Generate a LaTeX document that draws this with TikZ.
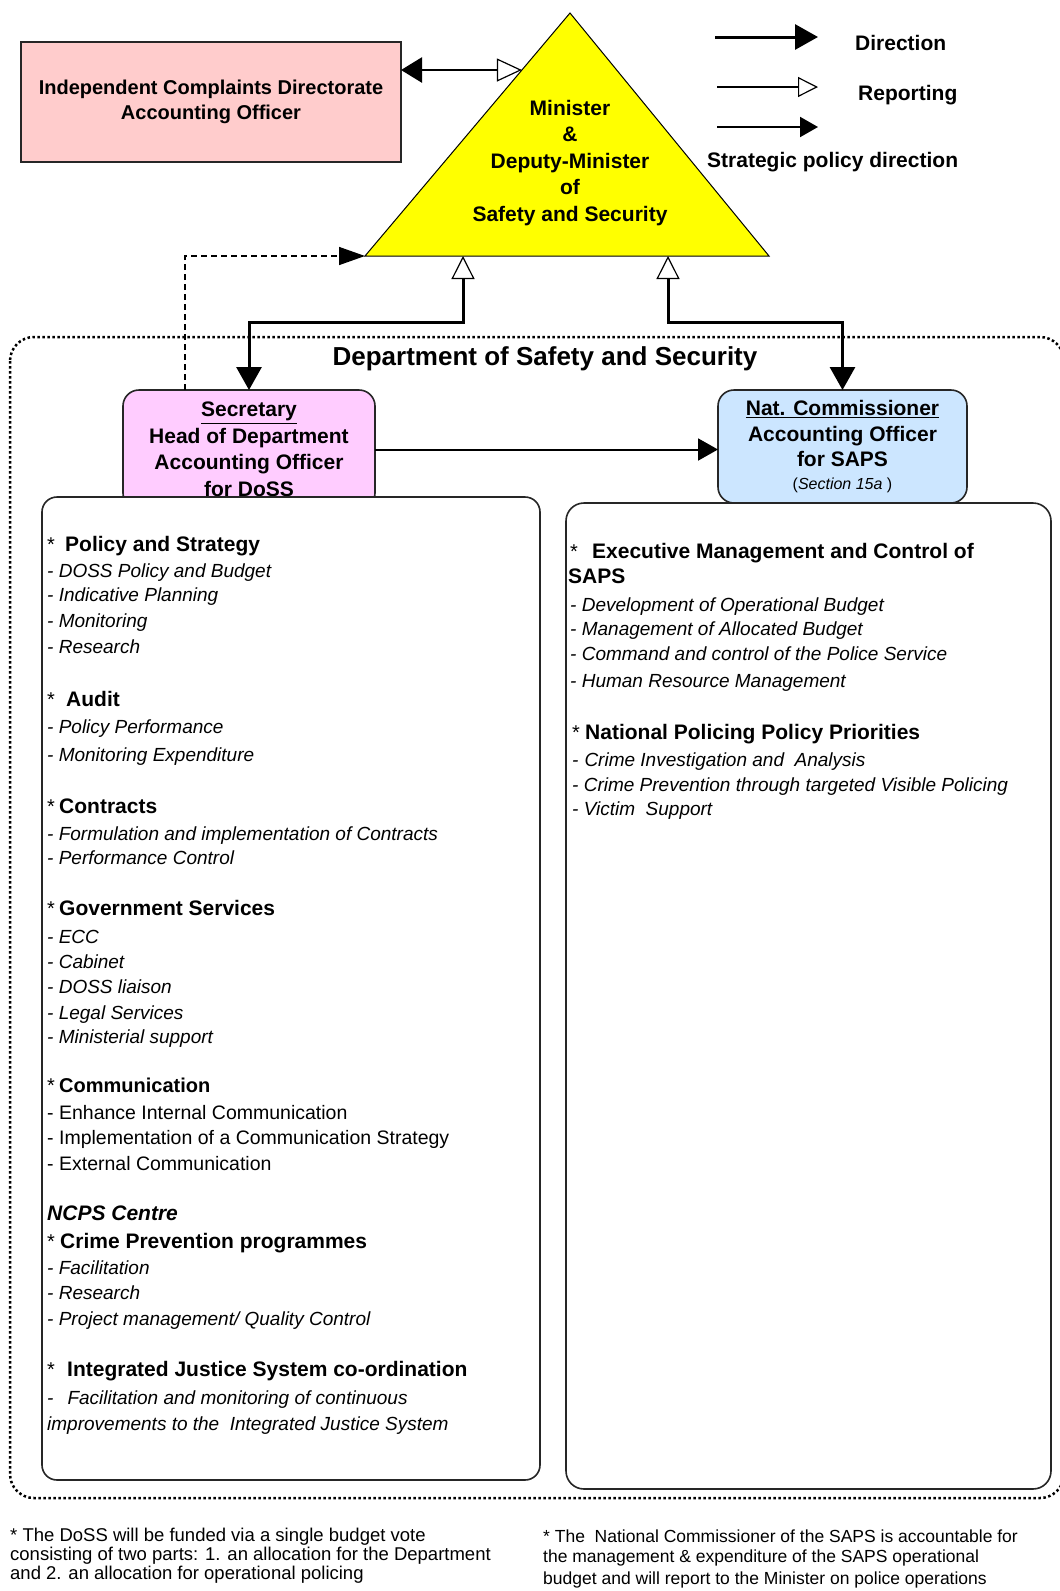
\documentclass[tikz,border=0pt]{standalone}
\usepackage{fontspec}
\setmainfont{Liberation Sans}
\usetikzlibrary{arrows.meta,calc}
\definecolor{icdpink}{HTML}{FFCCCC}
\definecolor{secpink}{HTML}{FFCCFF}
\definecolor{commblue}{HTML}{CCE6FF}
\definecolor{triyellow}{HTML}{FFFF00}
\newcommand\bul[1]{\makebox[#1][l]{\mdseries\upshape\fontsize{20}{22}\selectfont*}}
\begin{document}
\begin{tikzpicture}[x=1pt,y=-1pt,
  hd/.style={font=\fontsize{21}{25}\selectfont\bfseries, inner sep=0pt, anchor=base west},
  itm/.style={font=\fontsize{19}{23}\selectfont\itshape, inner sep=0pt, anchor=base west},
  rgl/.style={font=\fontsize{19.5}{23}\selectfont, inner sep=0pt, anchor=base west},
  legtxt/.style={font=\fontsize{21}{25}\selectfont\bfseries, inner sep=0pt, anchor=base west},
  foot/.style={font=\fontsize{18.5}{19}\selectfont, inner sep=0pt, anchor=base west},
  rfoot/.style={foot, font=\fontsize{17.5}{19}\selectfont},
  box/.style={draw=black!85, line width=1.6pt, outer sep=0pt, inner sep=0pt},
  titlebox/.style={box, rounded corners=16pt, align=center, font=\fontsize{21}{26.5}\selectfont\bfseries},
  contentbox/.style={box, fill=white},
  thickline/.style={line width=3pt},
]
\useasboundingbox (0,0) rectangle (1060,1591);
\fill[white] (0,0) rectangle (1060,1591);
\clip (0,0) rectangle (1060,1591);

% department boundary
\draw[line width=2.5pt, dash pattern=on 2.5pt off 2.5pt, rounded corners=24pt] (10,337) rectangle (1064,1498);
\node[font=\fontsize{26}{30}\selectfont\bfseries, inner sep=0pt, anchor=base] (dept) at (545,365) {Department of Safety and Security};

% ICD box
\node[box, fill=icdpink, minimum width=380pt, minimum height=120pt, align=center,
      font=\fontsize{20}{25.5}\selectfont\bfseries] (icd) at (211,102)
      {Independent Complaints Directorate\\Accounting Officer};

% triangle
\coordinate (apex) at (570,13);
\coordinate (bl) at (365,256);
\coordinate (br) at (769,256);
\draw[fill=triyellow, line width=1pt] (apex) -- (bl) -- (br) -- cycle;
\node[align=center, inner sep=0pt, font=\fontsize{21}{26.5}\selectfont\bfseries] (minister) at (570,163)
  {Minister\\\&\\Deputy-Minister\\of\\Safety and Security};
\coordinate (trL) at ($(bl)!0.7654!(apex)$);
\coordinate (rl) at (463,256);
\coordinate (rr) at (668,256);

% legend
\coordinate (d1) at (715,37);  \coordinate (d2) at (818,37);
\coordinate (p1) at (717,87);  \coordinate (p2) at (818,87);
\coordinate (s1) at (717,127); \coordinate (s2) at (818,127);
\draw[line width=3pt, -{Triangle[length=23pt,width=25pt]}] (d1) -- (d2);
\draw[line width=1.5pt, -{Triangle[open,length=20pt,width=20pt,line width=1.2pt,fill=white]}] (p1) -- (p2);
\draw[line width=2pt, -{Triangle[length=18pt,width=20pt]}] (s1) -- (s2);
\node[legtxt] (ldir) at (855,50) {Direction};
\node[legtxt] (lrep) at (858,100) {Reporting};
\node[legtxt] (lstr) at (707,167) {Strategic policy direction};

% secretary and commissioner
\node[titlebox, fill=secpink, minimum width=252pt, minimum height=119pt] (sec) at (249,449.5)
  {\underline{Secretary}\\Head of Department\\Accounting Officer\\for DoSS};
\node[titlebox, fill=commblue, minimum width=249pt, minimum height=113pt,
      font=\fontsize{21}{25.5}\selectfont\bfseries] (comm) at (842.5,446.5)
  {\underline{Nat. Commissioner}\\Accounting Officer\\for SAPS\\[-3pt]{\mdseries\fontsize{16}{19}\selectfont(\textit{Section 15a} )}};

% content boxes
\node[contentbox, rounded corners=15pt, minimum width=498pt, minimum height=983pt] (lbox) at (291,988.5) {};
\node[contentbox, rounded corners=18pt, minimum width=485pt, minimum height=986pt] (rbox) at (808.5,996) {};

% connectors
\draw[line width=2.5pt, {Triangle[length=21pt,width=25pt]}-{Triangle[open,length=25pt,width=23pt,line width=1.2pt,fill=white]}]
  (trL -| icd.east) -- (trL);
\draw[thickline, {Triangle[open,length=23pt,width=23pt,line width=1.2pt,fill=white]}-{Triangle[length=23pt,width=25pt]}]
  (rl) -- ($(rl)+(0,66)$) -| (sec.north);
\draw[thickline, {Triangle[open,length=23pt,width=23pt,line width=1.2pt,fill=white]}-{Triangle[length=23pt,width=25pt]}]
  (rr) -- ($(rr)+(0,66)$) -| (comm.north);
\draw[line width=1.5pt, dash pattern=on 6pt off 4pt, -{Triangle[length=26pt,width=18pt]}]
  ($(sec.north west)+(62,0)$) |- (bl);
\draw[line width=2pt, -{Triangle[length=20pt,width=22pt]}] (sec.east) -- (sec.east -| comm.west);

% left box content
\node[hd] (l1) at (47,551) {\bul{18pt}Policy and Strategy};
\node[itm] (l2) at (47,577) {- DOSS Policy and Budget};
\node[itm] (l3) at (47,601) {- Indicative Planning};
\node[itm] (l4) at (47,627) {- Monitoring};
\node[itm] (l5) at (47,653) {- Research};
\node[hd] (l6) at (47,706) {\bul{19pt}Audit};
\node[itm] (l7) at (47,733) {- Policy Performance};
\node[itm] (l8) at (47,761) {- Monitoring Expenditure};
\node[hd] (l9) at (47,813) {\bul{12pt}Contracts};
\node[itm] (l10) at (47,840) {- Formulation and implementation of Contracts};
\node[itm] (l11) at (47,864) {- Performance Control};
\node[hd] (l12) at (47,915) {\bul{12pt}Government Services};
\node[itm] (l13) at (47,943) {- ECC};
\node[itm] (l14) at (47,968) {- Cabinet};
\node[itm] (l15) at (47,993) {- DOSS liaison};
\node[itm] (l16) at (47,1019) {- Legal Services};
\node[itm] (l17) at (47,1043) {- Ministerial support};
\node[hd, font=\fontsize{20}{24}\selectfont\bfseries] (l18) at (47,1092) {\bul{12pt}Communication};
\node[rgl] (l19) at (47,1119) {- Enhance Internal Communication};
\node[rgl] (l20) at (47,1144) {- Implementation of a Communication Strategy};
\node[rgl] (l21) at (47,1170) {- External Communication};
\node[hd, font=\fontsize{21}{25}\selectfont\bfseries\itshape] (l22) at (47,1220) {NCPS Centre};
\node[hd] (l23) at (47,1248) {\bul{13pt}Crime Prevention programmes};
\node[itm] (l24) at (47,1274) {- Facilitation};
\node[itm] (l25) at (47,1299) {- Research};
\node[itm] (l26) at (47,1325) {- Project management/ Quality Control};
\node[hd] (l27) at (47,1376) {\bul{20pt}Integrated Justice System co-ordination};
\node[itm] (l28) at (47,1404) {-\hspace{14pt}Facilitation and monitoring of continuous};
\node[itm] (l29) at (47,1430) {improvements to the\ \ Integrated Justice System};

% right box content
\node[hd] (r1) at (570,558) {\bul{22pt}Executive Management and Control of};
\node[hd] (r2) at (568,583) {SAPS};
\node[itm] (r3) at (570,611) {- Development of Operational Budget};
\node[itm] (r4) at (570,635) {- Management of Allocated Budget};
\node[itm] (r5) at (570,660) {- Command and control of the Police Service};
\node[itm] (r6) at (570,687) {- Human Resource Management};
\node[hd] (r7) at (572,739) {\bul{13pt}National Policing Policy Priorities};
\node[itm] (r8) at (572,766) {-\hspace{6pt}Crime Investigation and\ \ Analysis};
\node[itm] (r9) at (572,791) {- Crime Prevention through targeted Visible Policing};
\node[itm] (r10) at (572,815) {- Victim\ \ Support};

% footnotes
\node[foot] (f1) at (10,1541) {* The DoSS will be funded via a single budget vote};
\node[foot] (f2) at (10,1560) {consisting of two parts: 1. an allocation for the Department};
\node[foot] (f3) at (10,1579) {and 2. an allocation for operational policing};
\node[rfoot] (g1) at (543,1542) {* The\ \ National Commissioner of the SAPS is accountable for};
\node[rfoot] (g2) at (543,1562) {the management \& expenditure of the SAPS operational};
\node[rfoot] (g3) at (543,1584) {budget and will report to the Minister on police operations};
\end{tikzpicture}
\end{document}
